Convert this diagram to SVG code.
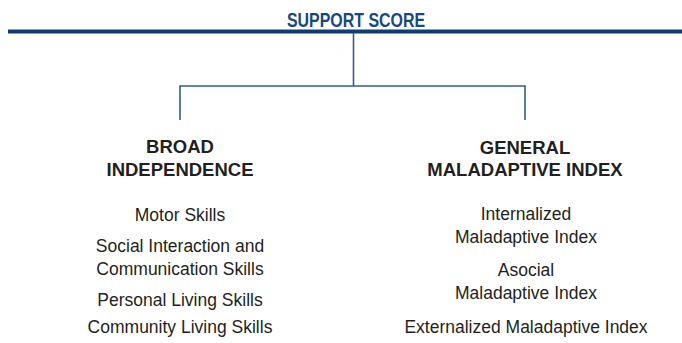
<svg xmlns="http://www.w3.org/2000/svg" width="682" height="343" viewBox="0 0 682 343">
<style>
.title{font-family:"Liberation Sans",Arial,sans-serif;font-weight:bold;font-size:19.5px;fill:#17497d;text-anchor:middle}
.head{font-family:"Liberation Sans",Arial,sans-serif;font-weight:bold;font-size:18.5px;fill:#231f20;text-anchor:middle}
.item{font-family:"Liberation Sans",Arial,sans-serif;font-size:17.5px;fill:#231f20;text-anchor:middle}
.conn{stroke:#2f5f93;stroke-width:1.6;fill:none}
</style>
<rect width="682" height="343" fill="#ffffff"/>
<g id="support-score">
<text class="title" x="356" y="27.3" textLength="138" lengthAdjust="spacingAndGlyphs">SUPPORT SCORE</text>
<line x1="8" y1="31.5" x2="682" y2="31.5" stroke="#0f3e6e" stroke-width="4"/>
</g>
<g id="connectors">
<path class="conn" d="M353.5 33 V86 M180 86 H525 M180 85.2 V120 M525 85.2 V120"/>
</g>
<g id="broad-independence">
<text class="head" x="180" y="153">BROAD</text>
<text class="head" x="180" y="176">INDEPENDENCE</text>
<text class="item" x="180" y="221">Motor Skills</text>
<text class="item" x="180" y="251.5">Social Interaction and</text>
<text class="item" x="180" y="275">Communication Skills</text>
<text class="item" x="180" y="306">Personal Living Skills</text>
<text class="item" x="180" y="333">Community Living Skills</text>
</g>
<g id="general-maladaptive-index">
<text class="head" x="525" y="154">GENERAL</text>
<text class="head" x="525" y="176">MALADAPTIVE INDEX</text>
<text class="item" x="526" y="220">Internalized</text>
<text class="item" x="526" y="243">Maladaptive Index</text>
<text class="item" x="526" y="276">Asocial</text>
<text class="item" x="526" y="299">Maladaptive Index</text>
<text class="item" x="526" y="333">Externalized Maladaptive Index</text>
</g>
</svg>
